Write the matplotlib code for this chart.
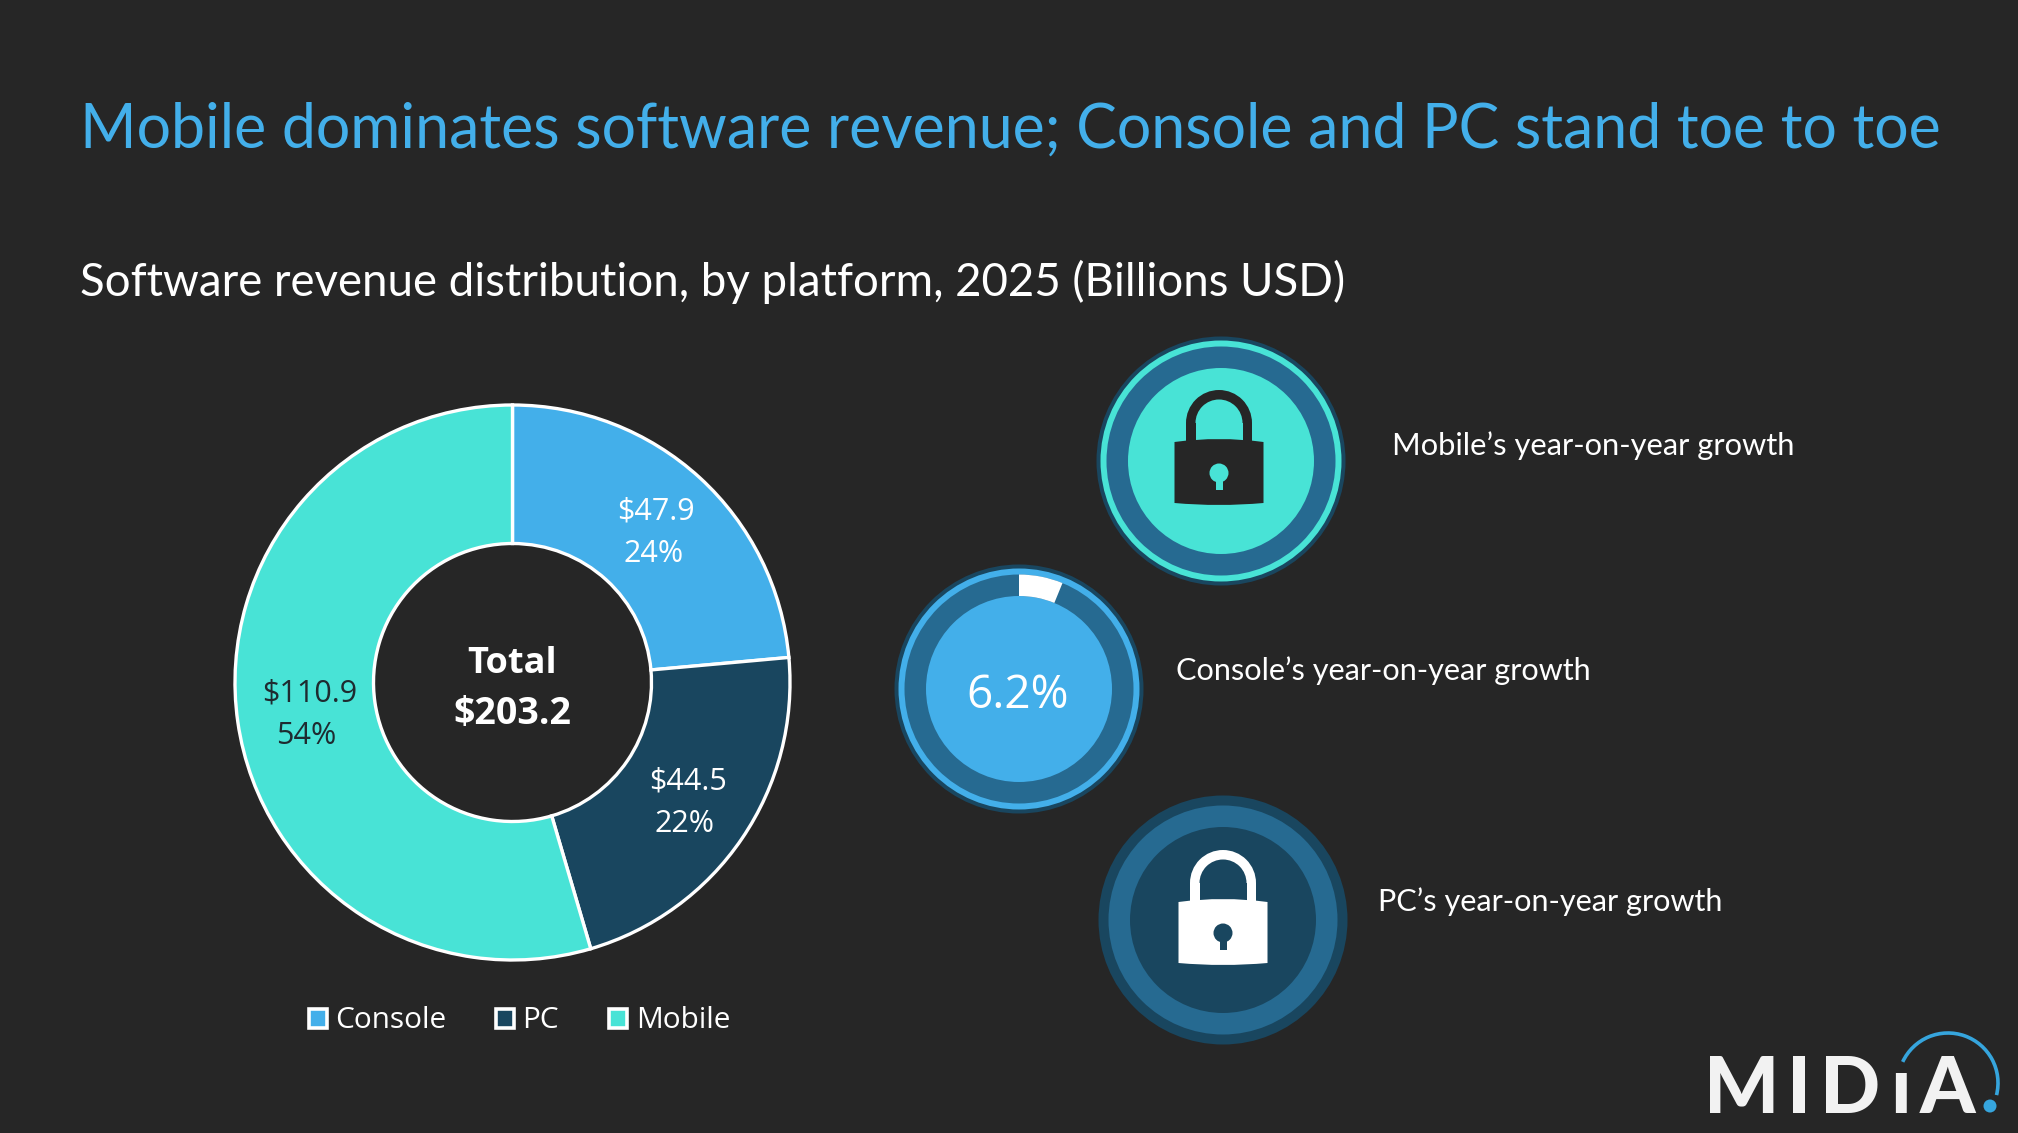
#!/usr/bin/env python3
import matplotlib
matplotlib.use('Agg')
import matplotlib.pyplot as plt
from matplotlib.patches import Circle, Wedge, Rectangle, PathPatch, Arc
from matplotlib.path import Path

# data
platforms = ['Console', 'PC', 'Mobile']
revenue = [47.9, 44.5, 110.9]
shares = ['24%', '22%', '54%']
total_label = '$203.2'
console_growth = 6.2

W, H = 2018, 1133
BG = '#262626'
TEAL = '#48E3D6'
BLUE = '#43AFEA'
NAVY = '#19465F'
MID = '#266A91'
slice_colors = [BLUE, NAVY, TEAL]

fig = plt.figure(figsize=(W / 100, H / 100), dpi=100, facecolor=BG)
ax = fig.add_axes([0, 0, 1, 1])


def Y(py):
    # pixel rows count from the top
    return H - py


def label(x, y, s, size, family='Lato', color='white', ha='left', weight='normal', **kw):
    ax.text(x, Y(y), s, fontsize=size, family=family, color=color, ha=ha, va='center',
            fontweight=weight, **kw)


def badge(cx, cy, outer, rim, ring, core):
    ax.add_patch(Circle((cx, Y(cy)), 124.5, fc=outer, ec='none', zorder=2))
    ax.add_patch(Circle((cx, Y(cy)), 120.5, fc=rim, ec='none', zorder=2))
    ax.add_patch(Circle((cx, Y(cy)), 114.5, fc=ring, ec='none', zorder=3))
    ax.add_patch(Circle((cx, Y(cy)), 93, fc=core, ec='none', zorder=4))


def lock(cx, cy, color, hole):
    # shackle
    ax.add_patch(Wedge((cx, Y(cy - 37)), 33, 0, 180, width=9.5, fc=color, ec='none', zorder=5))
    for dx in (-33, 23.5):
        ax.add_patch(Rectangle((cx + dx, Y(cy - 16)), 9.5, 21, fc=color, ec='none', zorder=5))
    # body, top and bottom edges bow slightly upward and downward
    hw = 44.5
    verts = [(cx - hw, Y(cy - 18)), (cx, Y(cy - 24)), (cx + hw, Y(cy - 18)),
             (cx + hw, Y(cy + 43)), (cx, Y(cy + 47)), (cx - hw, Y(cy + 43)),
             (cx - hw, Y(cy - 18))]
    codes = [Path.MOVETO, Path.CURVE3, Path.CURVE3, Path.LINETO, Path.CURVE3, Path.CURVE3,
             Path.CLOSEPOLY]
    ax.add_patch(PathPatch(Path(verts, codes), fc=color, ec='none', zorder=5))
    # keyhole
    ax.add_patch(Circle((cx, Y(cy + 13)), 9.5, fc=hole, ec='none', zorder=6))
    ax.add_patch(Rectangle((cx - 3.5, Y(cy + 30)), 7, 14, fc=hole, ec='none', zorder=6))


# donut
wedges, _ = ax.pie(revenue, colors=slice_colors, radius=277.5, center=(512.5, Y(682.5)),
                   startangle=90, counterclock=False,
                   wedgeprops=dict(width=138.5, edgecolor='white', linewidth=2.4))
ax.set_xlim(0, W)
ax.set_ylim(0, H)
ax.axis('off')

# data labels
val_pos = [(656, 512), (688, 782), (310, 694)]
pct_pos = [(654, 554), (685, 824), (306, 736)]
val_colors = ['white', 'white', '#1E2B30']
for i in range(len(platforms)):
    label(val_pos[i][0], val_pos[i][1], f'${revenue[i]}', 22, 'Open Sans', val_colors[i], 'center')
    label(pct_pos[i][0], pct_pos[i][1], shares[i], 22, 'Open Sans', val_colors[i], 'center')

label(512, 664, 'Total', 26, 'Open Sans', ha='center', weight='bold')
label(512, 714, total_label, 27, 'Open Sans', ha='center', weight='bold')

# legend
swatch_x = [307, 494, 607]
text_x = [335, 522, 636]
for i, name in enumerate(platforms):
    ax.add_patch(Rectangle((swatch_x[i] + 1.5, Y(1028)), 18.5, 19.5, fc=slice_colors[i],
                           ec='white', lw=2.6))
    label(text_x[i], 1020, name, 21.4, 'Open Sans')

# titles
label(80, 130, 'Mobile dominates software revenue; Console and PC stand toe to toe', 43.8,
      color=BLUE)
label(80, 282, 'Software revenue distribution, by platform, 2025 (Billions USD)', 32.9)

# growth badges
badge(1221, 461, NAVY, TEAL, MID, TEAL)
lock(1219, 460, BG, TEAL)

badge(1019, 689, NAVY, BLUE, MID, BLUE)
ax.add_patch(Wedge((1019, Y(689)), 114.5, 90 - console_growth / 100 * 360, 90, width=21.5,
                   fc='white', ec='none', zorder=5))
label(1018, 696, f'{console_growth}%', 33, 'Open Sans', ha='center', zorder=6)

badge(1223, 920, NAVY, NAVY, MID, NAVY)
lock(1223, 920, 'white', NAVY)

label(1392, 446, 'Mobile\u2019s year-on-year growth', 22.2)
label(1176, 671, 'Console\u2019s year-on-year growth', 22.1)
label(1378, 902, 'PC\u2019s year-on-year growth', 22.1)

# logo
logo_letters = ['M', 'I', 'D', '\u0131', 'A']
logo_x = [1742, 1799, 1850, 1900, 1947]
for ch, x in zip(logo_letters, logo_x):
    ax.text(x, Y(1113), ch, fontsize=57, family='Lato', fontweight=900, color='#F2F2F2',
            ha='center', va='baseline')
ax.add_patch(Arc((1948, Y(1083)), 100, 100, theta1=-14, theta2=155, color='#36A5DD', lw=2.6))
ax.add_patch(Circle((1990, Y(1106)), 6.5, fc='#36A5DD', ec='none'))

fig.savefig('out.png', dpi=100, facecolor=BG)
plt.close()
